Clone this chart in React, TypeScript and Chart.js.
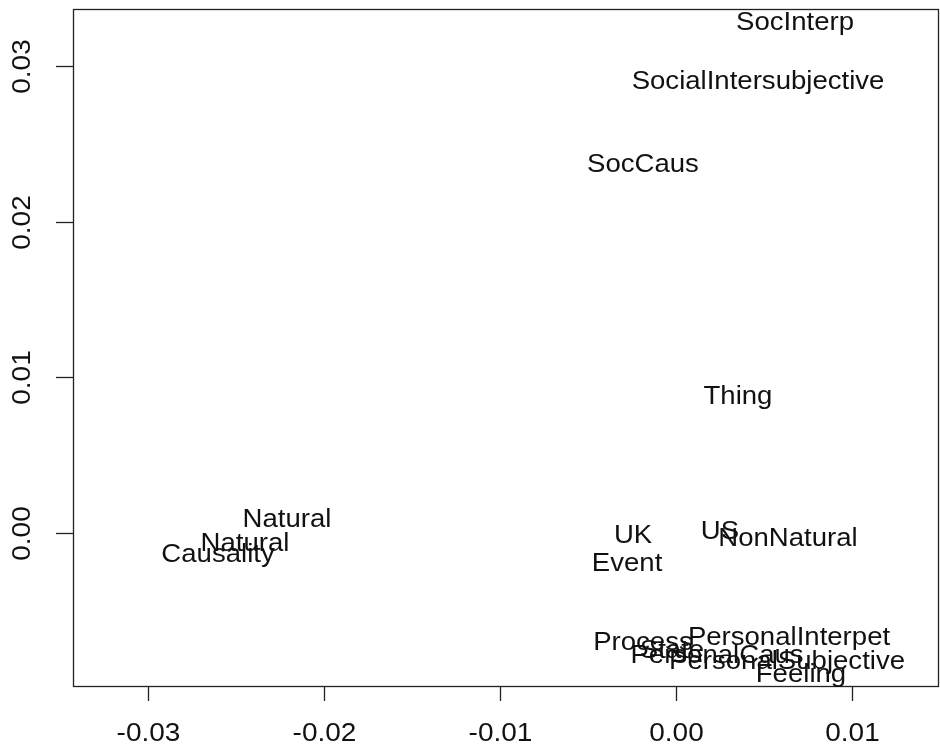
import React, { useEffect, useRef } from "react";
import { Chart, registerables } from "chart.js";

Chart.register(...registerables);

const labels = [
  "SocInterp", "SocialIntersubjective", "SocCaus", "Thing",
  "Natural", "Natural", "Causality", "UK", "US", "NonNatural", "Event",
  "Process", "PersonalInterpet", "State", "PersonalCaus", "PersonalSubjective", "Feeling",
];
const xValues = [
  0.00676, 0.00466, -0.00188, 0.00352,
  -0.0221, -0.02449, -0.02602, -0.00244, 0.0025, 0.00636, -0.00278,
  -0.00188, 0.00642, -0.00023, 0.00233, 0.00631, 0.0071,
];
const yValues = [
  0.0328, 0.02897, 0.02363, 0.00871,
  0.0008, -0.00074, -0.00145, -0.00023, 0.00003, -0.00042, -0.00203,
  -0.00711, -0.00678, -0.00762, -0.00794, -0.00833, -0.00916,
];
const xTicks = [-0.03, -0.02, -0.01, 0.0, 0.01];
const yTicks = [0.0, 0.01, 0.02, 0.03];

const FONT = '"Liberation Sans", Arial, sans-serif';

const rPlotPlugin = {
  id: "rPlot",
  afterDraw(chart: any) {
    const ctx = chart.ctx;
    const area = chart.chartArea;
    const xs = chart.scales.x;
    const ys = chart.scales.y;
    ctx.save();
    ctx.strokeStyle = "#222";
    ctx.lineWidth = 1.3;
    ctx.strokeRect(Math.round(area.left) + 0.5, Math.round(area.top) + 0.5, area.right - area.left - 1, area.bottom - area.top);
    // x ticks
    ctx.fillStyle = "#111";
    for (const t of xTicks) {
      const px = Math.round(xs.getPixelForValue(t)) + 0.5;
      ctx.beginPath();
      ctx.moveTo(px, area.bottom);
      ctx.lineTo(px, area.bottom + 15);
      ctx.stroke();
      ctx.save();
      ctx.translate(px, area.bottom + 48);
      ctx.scale(1.12, 1);
      ctx.font = `25px ${FONT}`;
      ctx.textAlign = "center";
      ctx.textBaseline = "middle";
      ctx.fillText(t.toFixed(2), 0, 0);
      ctx.restore();
    }
    for (const t of yTicks) {
      const py = Math.round(ys.getPixelForValue(t)) + 0.5;
      ctx.beginPath();
      ctx.moveTo(area.left, py);
      ctx.lineTo(area.left - 17, py);
      ctx.stroke();
      ctx.save();
      ctx.translate(area.left - 50, py);
      ctx.rotate(-Math.PI / 2);
      ctx.scale(1.12, 1);
      ctx.font = `25px ${FONT}`;
      ctx.textAlign = "center";
      ctx.textBaseline = "middle";
      ctx.fillText(t.toFixed(2), 0, 0);
      ctx.restore();
    }
    // point labels
    for (let i = 0; i < labels.length; i++) {
      const px = xs.getPixelForValue(xValues[i]);
      const py = ys.getPixelForValue(yValues[i]);
      ctx.save();
      ctx.translate(px, py);
      ctx.scale(1.06, 1);
      ctx.font = `26px ${FONT}`;
      ctx.textAlign = "center";
      ctx.textBaseline = "middle";
      ctx.fillStyle = "#111";
      ctx.fillText(labels[i], 0, 0);
      ctx.restore();
    }
    ctx.restore();
  },
};

export default function App() {
  const ref = useRef<HTMLCanvasElement>(null);
  useEffect(() => {
    document.body.style.margin = "0";
    const chart = new Chart(ref.current!, {
      type: "scatter",
      data: {
        datasets: [
          {
            data: xValues.map((x, i) => ({ x, y: yValues[i] })),
            pointRadius: 0,
            pointHoverRadius: 0,
          },
        ],
      },
      options: {
        responsive: false,
        animation: false,
        devicePixelRatio: 1,
        layout: { padding: { left: 73, top: 9, right: 1, bottom: 63 } },
        plugins: { legend: { display: false }, tooltip: { enabled: false } },
        scales: {
          x: { type: "linear", min: -0.034261, max: 0.014943, display: false },
          y: { type: "linear", min: -0.009871, max: 0.033666, display: false },
        },
      },
      plugins: [rPlotPlugin],
    });
    return () => chart.destroy();
  }, []);
  return (
    <div style={{ position: "absolute", left: 0, top: 0, width: 940, height: 749, background: "#fff" }}>
      <canvas ref={ref} width={940} height={749} />
    </div>
  );
}
